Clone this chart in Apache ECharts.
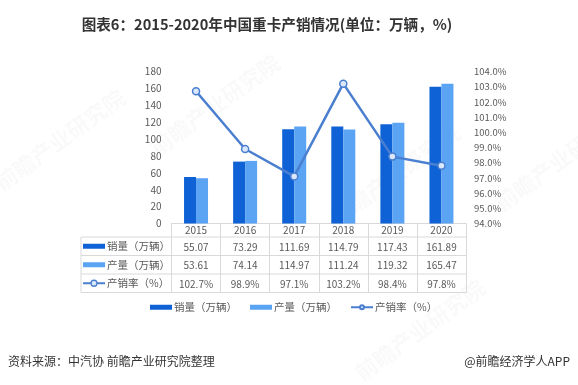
<!DOCTYPE html>
<html><head><meta charset="utf-8">
<script src="https://cdn.jsdelivr.net/npm/echarts@6/dist/echarts.min.js"></script>
<style>html,body{margin:0;padding:0;background:#fff}#c{width:578px;height:385px}</style>
</head><body><div id="c"></div>
<script>
var years = ['2015','2016','2017','2018','2019','2020'];
var sales = [55.07, 73.29, 111.69, 114.79, 117.43, 161.89];
var production = [53.61, 74.14, 114.97, 111.24, 119.32, 165.47];
var ratio = [102.7, 98.9, 97.1, 103.2, 98.4, 97.8];
var seriesNames = ['销量（万辆）', '产量（万辆）', '产销率（%）'];
var leftTicks = [0, 180, 20];
var rightTicks = [94, 104, 1];

var C1 = '#0f62d6', C2 = '#5ba3f3', CL = '#4a7fd0';
var FONT = '"Noto Sans CJK SC","Noto Sans",sans-serif';
var TXT = '#595959', LINE = '#d9d9d9';

var chart = echarts.init(document.getElementById('c'));
var gl = 171.5, gr = 466, gt = 71.5, gb = 223.5;
var rows = [237, 255.5, 274, 292.5];
var graphics = [];
// watermarks
[[215,105],[395,175],[560,160],[60,140],[420,330]].forEach(function(p){
  graphics.push({type:'text', x:p[0], y:p[1], rotation:Math.PI/5, z:0,
    style:{text:'前瞻产业研究院', font:'bold 22px '+FONT, fill:'rgba(0,0,0,0.025)', textAlign:'center', textVerticalAlign:'middle'}});
});
rows.forEach(function(y){
  graphics.push({type:'line', shape:{x1:81,y1:y,x2:gr,y2:y}, style:{stroke:LINE, lineWidth:1}});
});
graphics.push({type:'line', shape:{x1:81,y1:rows[0],x2:81,y2:rows[3]}, style:{stroke:LINE, lineWidth:1}});
[0,1,2].forEach(function(i){
  var cy = (rows[i]+rows[i+1])/2;
  if(i<2){
    graphics.push({type:'rect', shape:{x:83,y:cy-2.5,width:22,height:5}, style:{fill: i===0?C1:C2}});
  } else {
    graphics.push({type:'line', shape:{x1:83,y1:cy,x2:105,y2:cy}, style:{stroke:CL, lineWidth:2}});
    graphics.push({type:'circle', shape:{cx:94,cy:cy,r:3}, style:{fill:'#dbe8fb', stroke:CL, lineWidth:1.3}});
  }
  graphics.push({type:'text', x:107, y:cy, style:{text:seriesNames[i], font:'10.5px '+FONT, fill:TXT, textVerticalAlign:'middle'}});
});

chart.setOption({
  animation:false,
  title:{text:'图表6：2015-2020年中国重卡产销情况(单位：万辆，%)', left:262, textAlign:'center', top:12,
    textStyle:{fontFamily:FONT, fontSize:14.6, fontWeight:'bold', color:'#333'}},
  legend:{left:150, top:302, padding:0, itemWidth:22, itemHeight:5, itemGap:13,
    textStyle:{fontFamily:FONT, fontSize:10.5, color:TXT, padding:[0,0,0,-3]},
    data:[{name:seriesNames[0], icon:'rect'},{name:seriesNames[1], icon:'rect'},{name:seriesNames[2]}]},
  grid:{left:gl, right:578-gr, top:gt, bottom:385-gb},
  xAxis:{type:'category', data:years,
    axisLine:{lineStyle:{color:LINE}},
    axisTick:{show:true, interval:0, length:69, lineStyle:{color:LINE}},
    axisLabel:{margin:0, interval:0, fontFamily:FONT, color:TXT,
      formatter:function(v, i){
        return '{y|'+v+'}\n{v|'+sales[i].toFixed(2)+'}\n{v|'+production[i].toFixed(2)+'}\n{v|'+ratio[i].toFixed(1)+'%}';
      },
      rich:{y:{lineHeight:14, fontSize:10, color:TXT, fontFamily:FONT, align:'center'},
            v:{lineHeight:18.5, fontSize:10, color:TXT, fontFamily:FONT, align:'center'}}}
  },
  yAxis:[
    {type:'value', min:leftTicks[0], max:leftTicks[1], interval:leftTicks[2],
      axisLine:{show:false}, axisTick:{show:false}, splitLine:{show:false},
      axisLabel:{margin:10, fontFamily:FONT, fontSize:10, color:TXT}},
    {type:'value', min:rightTicks[0], max:rightTicks[1], interval:rightTicks[2],
      axisLine:{show:false}, axisTick:{show:false}, splitLine:{show:false},
      axisLabel:{margin:8, fontFamily:FONT, fontSize:9.5, color:TXT, formatter:function(v){return v.toFixed(1)+'%';}}}
  ],
  series:[
    {name:seriesNames[0], type:'bar', data:sales, barWidth:12, barGap:'0%', itemStyle:{color:C1}},
    {name:seriesNames[1], type:'bar', data:production, barWidth:12, barGap:'0%', itemStyle:{color:C2}},
    {name:seriesNames[2], type:'line', yAxisIndex:1, data:ratio, symbol:'circle', symbolSize:7, z:5,
      lineStyle:{color:CL, width:2.5}, itemStyle:{color:'#dbe8fb', borderColor:CL, borderWidth:1.5}}
  ],
  graphic:graphics.concat([
    {type:'text', left:8, top:355, style:{text:'资料来源：中汽协 前瞻产业研究院整理', font:'12px '+FONT, fill:'#333'}},
    {type:'text', right:8, top:355, style:{text:'@前瞻经济学人APP', font:'12px '+FONT, fill:'#333'}}
  ])
});
</script></body></html>
